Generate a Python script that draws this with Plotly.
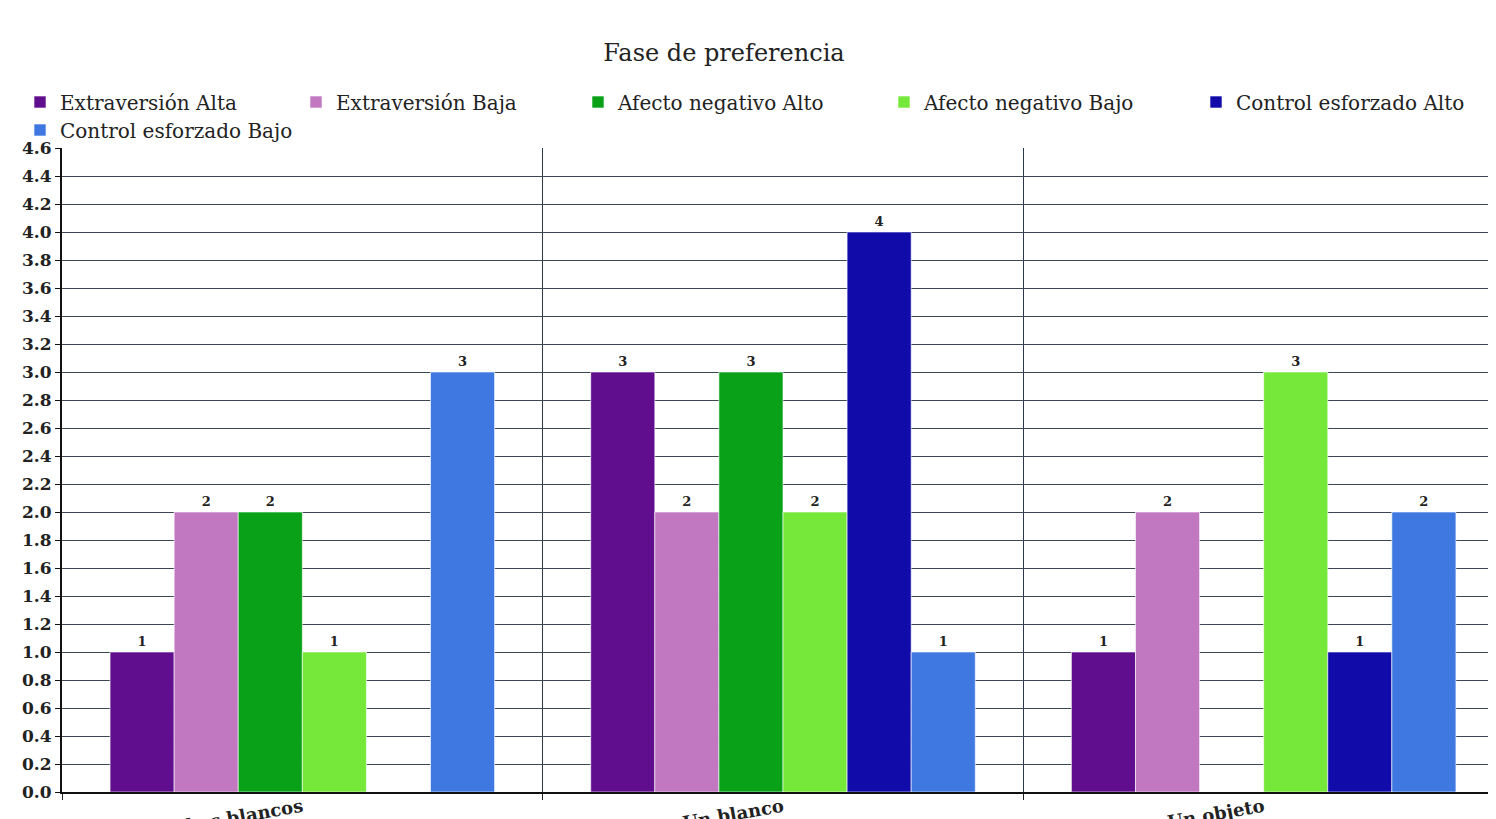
import plotly.graph_objects as go

categories = ["Ambos blancos", "Un blanco", "Un objeto"]
series_names = ["Extraversión Alta", "Extraversión Baja", "Afecto negativo Alto",
                "Afecto negativo Bajo", "Control esforzado Alto", "Control esforzado Bajo"]
extraversion_alta = [1, 3, 1]
extraversion_baja = [2, 2, 2]
afecto_alto = [2, 3, 0]
afecto_bajo = [1, 2, 3]
control_alto = [0, 4, 1]
control_bajo = [3, 1, 2]
colors = ["#600e8e", "#c277c1", "#08a118", "#75e83a", "#110ba9", "#4078e2"]
y_ticks = [round(i * 0.2, 1) for i in range(24)]

series_values = [extraversion_alta, extraversion_baja, afecto_alto,
                 afecto_bajo, control_alto, control_bajo]

# legend entry placement (viewport px of symbol left edge, row centre)
legend_pos = [(34, 102), (310, 102), (592, 102), (898, 102), (1210, 102), (34, 130)]

FONT = "DejaVu Serif"
OFF = 8  # page body margin
W, H = 1496, 819
fig = go.Figure()
legend_layouts = {}
for i, (name, vals, col) in enumerate(zip(series_names, series_values, colors)):
    lid = "legend" if i == 0 else f"legend{i + 1}"
    fig.add_trace(go.Bar(
        x=categories, y=vals, name=name, legend=lid, showlegend=True,
        marker=dict(color=col, line=dict(color="rgba(255,255,255,0.6)", width=1)),
        text=[str(v) if v else "" for v in vals],
        textposition="outside", cliponaxis=False,
        textfont=dict(family=FONT, size=13, color="#222", weight="bold"),
    ))
    lx, ly = legend_pos[i]
    legend_layouts[lid] = dict(
        orientation="h", xref="container", yref="container",
        x=(lx - OFF - 14) / W, xanchor="left",
        y=1 - (ly - OFF) / H, yanchor="middle",
        bgcolor="rgba(0,0,0,0)", borderwidth=0,
        font=dict(family=FONT, size=20, color="#222"),
        itemclick=False, itemdoubleclick=False,
    )

fig.update_layout(
    width=W, height=H, showlegend=True,
    paper_bgcolor="white", plot_bgcolor="white",
    margin=dict(l=62 - OFF, r=0, t=148 - OFF, b=35, autoexpand=False),
    barmode="group", bargap=0.2, bargroupgap=0,
    font=dict(family=FONT, color="#222"),
    title=dict(text="Fase de preferencia", x=(724 - OFF) / W, xanchor="center",
               y=1 - (53 - OFF) / H, yanchor="middle", xref="container", yref="container",
               font=dict(family=FONT, size=24, color="#222")),
    **legend_layouts,
)
fig.update_xaxes(
    range=[-0.5, 2.5], tickangle=-10, automargin=False,
    tickson="boundaries", showgrid=True, gridcolor="#2b3a4a", gridwidth=1,
    ticks="outside", ticklen=6, tickcolor="#222",
    showline=True, linecolor="#111", linewidth=2, ticklabelstandoff=-4,
    tickfont=dict(family=FONT, size=18, color="#222", weight="bold"),
)
fig.update_yaxes(
    range=[0, 4.6], tickvals=y_ticks, ticktext=[f"{v:.1f}" for v in y_ticks],
    showgrid=True, gridcolor="#3a4856", gridwidth=1,
    ticks="outside", ticklen=5, tickcolor="#111", zeroline=False,
    showline=True, linecolor="#111", linewidth=2, automargin=False,
    tickfont=dict(family=FONT, size=17, color="#222", weight="bold"),
)
fig.write_html("out.html")
